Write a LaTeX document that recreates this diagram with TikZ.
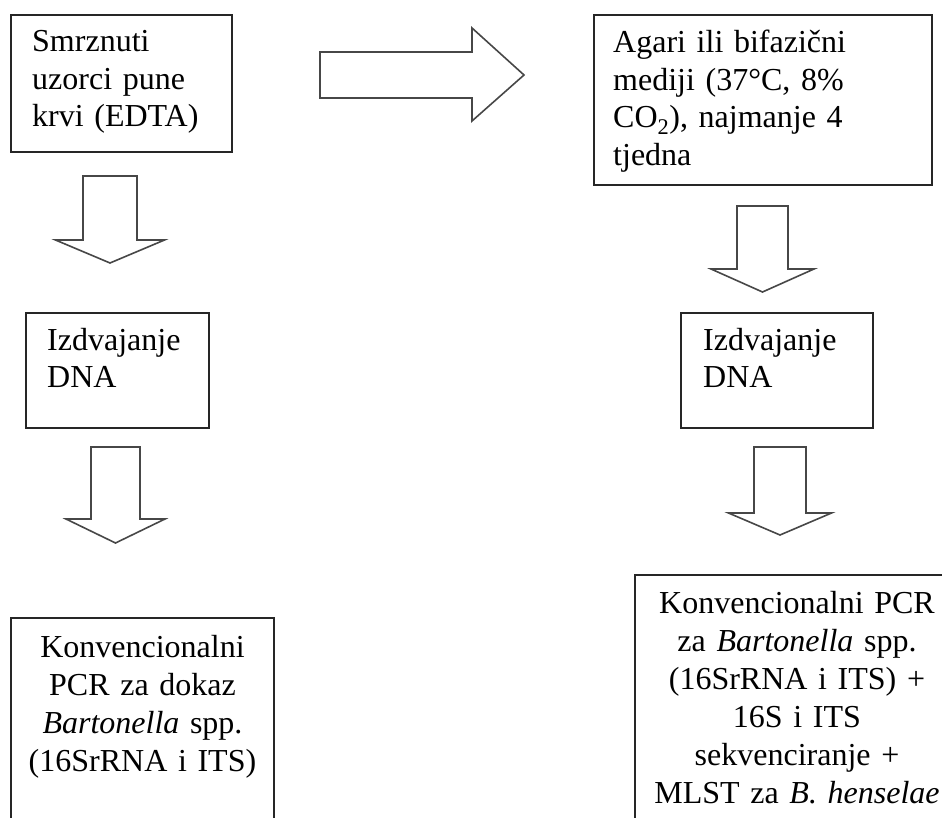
\documentclass[tikz,border=0pt]{standalone}
\usepackage{fontspec}
\setmainfont{Liberation Serif}
\begin{document}
\begin{tikzpicture}[x=1pt,y=-1pt,
  box/.style={draw=black!85, line width=1.8pt, inner sep=0pt, outer sep=0pt, anchor=north west},
  blockarrow/.style={draw=black!72, line width=1.6pt, line join=miter, fill=white},
  lefttext/.style={anchor=base west, inner sep=0pt, text width=#1, align=left, font=\fontsize{32}{37.5}\selectfont},
  ctrtext/.style={anchor=base, inner sep=0pt, text width=#1, align=center, font=\fontsize{32}{38}\selectfont}]
\useasboundingbox (0,0) rectangle (942,818);
\clip (0,0) rectangle (942,818);

% boxes
\node[box, minimum width=221pt, minimum height=137pt] (boxA) at (11,15) {};
\node[box, minimum width=338pt, minimum height=170pt] (boxB) at (594,15) {};
\node[box, minimum width=183pt, minimum height=115pt] (boxCL) at (26,313) {};
\node[box, minimum width=192pt, minimum height=115pt] (boxCR) at (681,313) {};
\node[box, minimum width=263pt, minimum height=260pt] (boxDL) at (11,618) {};
\node[box, minimum width=325pt, minimum height=300pt] (boxDR) at (635,575) {};

% texts
\node[lefttext=300pt] (tA) at (32,52) {Smrznuti\\uzorci pune\\krvi (EDTA)};
\node[lefttext=320pt] (tB) at (613,53) {Agari ili bifazični\\mediji (37°C, 8\%\\CO\textsubscript{2}), najmanje 4\\tjedna};
\node[lefttext=170pt] (tCL) at (47,350) {Izdvajanje\\DNA};
\node[lefttext=170pt] (tCR) at (703,350) {Izdvajanje\\DNA};
\node[ctrtext=260pt] (tDL) at (142.5,657) {Konvencionalni\\PCR za dokaz\\\textit{Bartonella} spp.\\(16SrRNA i ITS)};
\node[ctrtext=320pt] (tDR) at (797,613) {Konvencionalni PCR\\za \textit{Bartonella} spp.\\(16SrRNA i ITS) +\\16S i ITS\\sekvenciranje +\\MLST za \textit{B. henselae}};

% block arrows
\draw[blockarrow] (320,52) -- (472,52) -- (472,28) -- (524,75) -- (472,121) -- (472,98) -- (320,98) -- cycle;
\draw[blockarrow] (83,176) -- (137,176) -- (137,240) -- (164.5,240) -- (110,263) -- (55.5,240) -- (83,240) -- cycle;
\draw[blockarrow] (737,206) -- (788,206) -- (788,269) -- (814,269) -- (762.5,292) -- (711,269) -- (737,269) -- cycle;
\draw[blockarrow] (91,447) -- (140,447) -- (140,519) -- (165,519) -- (115.5,543) -- (66,519) -- (91,519) -- cycle;
\draw[blockarrow] (754,447) -- (806,447) -- (806,513) -- (831.5,513) -- (780,535) -- (728.5,513) -- (754,513) -- cycle;
\end{tikzpicture}
\end{document}
